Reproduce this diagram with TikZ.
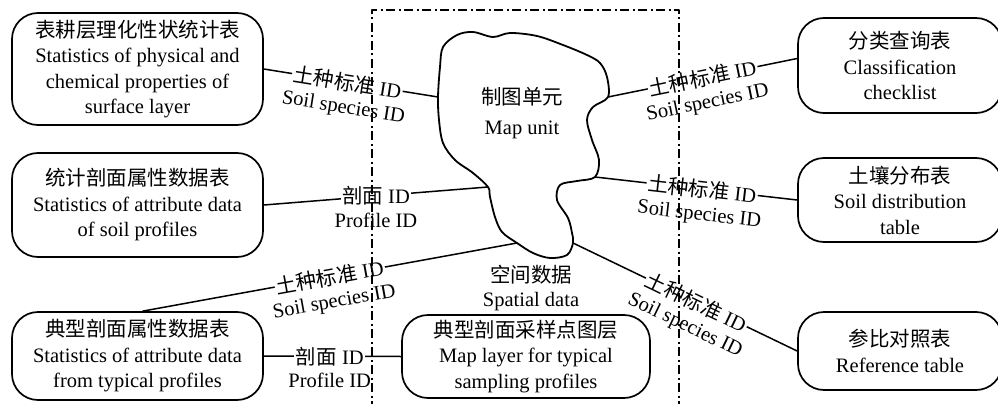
\documentclass[tikz,border=0pt]{standalone}
\usepackage{fontspec}
\setmainfont{Liberation Serif}
\newfontfamily\cjk{Noto Sans CJK SC}
\newcommand{\zh}[1]{{\cjk #1}}
\usetikzlibrary{positioning}

\begin{document}
\begin{tikzpicture} [x=1pt, y=-1pt, line join=round,
    every node/.style={font=\fontsize{20.5}{25.5}\selectfont},
    tablebox/.style={draw, line width=1.7pt, rounded corners=26pt, align=center, inner sep=0pt},
    link/.style={line width=1.5pt},
    idtop/.style={fill=white, inner sep=1.5pt},
    idsub/.style={below=16pt, inner sep=0pt},
    blobline/.style={line width=1.8pt},
    unitframe/.style={line width=1.5pt, dash pattern=on 9pt off 3.5pt on 2pt off 3.5pt}
  ]

\useasboundingbox (0,0) rectangle (998,404);

% tables
\node[tablebox, minimum width=251pt, minimum height=112pt] (surf) at (137.5,69)
  {\zh{表耕层理化性状统计表}\\Statistics of physical and\\chemical properties of\\surface layer};
\node[tablebox, minimum width=251pt, minimum height=104pt] (stat) at (137.5,205)
  {\zh{统计剖面属性数据表}\\Statistics of attribute data\\of soil profiles};
\node[tablebox, minimum width=251pt, minimum height=88pt] (typ) at (137.5,356)
  {\zh{典型剖面属性数据表}\\Statistics of attribute data\\from typical profiles};
\node[tablebox, minimum width=248pt, minimum height=83pt] (layer) at (526,356.5)
  {\zh{典型剖面采样点图层}\\Map layer for typical\\sampling profiles};
\node[tablebox, minimum width=204pt, minimum height=95pt] (class) at (900,65.5)
  {\zh{分类查询表}\\Classification\\checklist};
\node[tablebox, minimum width=204pt, minimum height=84pt] (dist) at (900,200)
  {\zh{土壤分布表}\\Soil distribution\\table};
\node[tablebox, minimum width=204pt, minimum height=78pt] (ref) at (900,351)
  {\zh{参比对照表}\\Reference table};

% map unit
\coordinate (u-w) at (438,97);
\coordinate (u-sw) at (488,187);
\coordinate (u-s) at (517,243);
\coordinate (u-ne) at (608,97);
\coordinate (u-e) at (595,177);
\coordinate (u-se) at (573,243);

\draw[blobline] plot[smooth cycle, tension=0.55] coordinates {
  (438,97) (440,67) (443,47) (457,35) (473,32) (493,37) (510,33) (537,36)
  (563,45) (587,55) (600,63) (607,77) (608,97) (593,107) (587,120) (592,140)
  (599,160) (595,177) (577,181) (560,185) (557,200) (568,218) (572,233)
  (573,243) (567,255) (550,258) (533,253) (517,243) (502,232) (495,217)
  (490,197) (488,187) (473,173) (455,160) (443,143) (439,120)};

\node[align=center, font=\fontsize{20.5}{30}\selectfont] (unittxt) at (522,113) {\zh{制图单元}\\Map unit};
\node[align=center, font=\fontsize{20.5}{23.5}\selectfont] (spatial) at (531,288) {\zh{空间数据}\\Spatial data};

% links
\draw[link] (surf.east) -- node[idtop, sloped, pos=0.48]{\zh{土种标准} ID}
  node[idsub, sloped, pos=0.48]{Soil species ID} (u-w);
\draw[link] (stat.east) -- node[idtop]{\zh{剖面} ID} node[idsub]{Profile ID} (u-sw);
\draw[link] ([xshift=5pt]typ.north) -- node[idtop, sloped]{\zh{土种标准} ID}
  node[idsub, sloped]{Soil species ID} (u-s);
\draw[link] (typ.east) -- node[idtop, pos=0.48]{\zh{剖面} ID} node[idsub, pos=0.48]{Profile ID} (layer.west);
\draw[link] (u-ne) -- node[idtop, sloped]{\zh{土种标准} ID}
  node[idsub, sloped]{Soil species ID} ([yshift=7pt]class.west);
\draw[link] (u-e) -- node[idtop, sloped, pos=0.53]{\zh{土种标准} ID}
  node[idsub, sloped, pos=0.53]{Soil species ID} (dist.west);
\draw[link] (u-se) -- node[idtop, sloped, pos=0.55]{\zh{土种标准} ID}
  node[idsub, sloped, pos=0.55]{Soil species ID} (ref.west);

% spatial data frame
\draw[unitframe] (372,410) -- (372,10) -- (679,10) -- (679,410);

\end{tikzpicture}
\end{document}
